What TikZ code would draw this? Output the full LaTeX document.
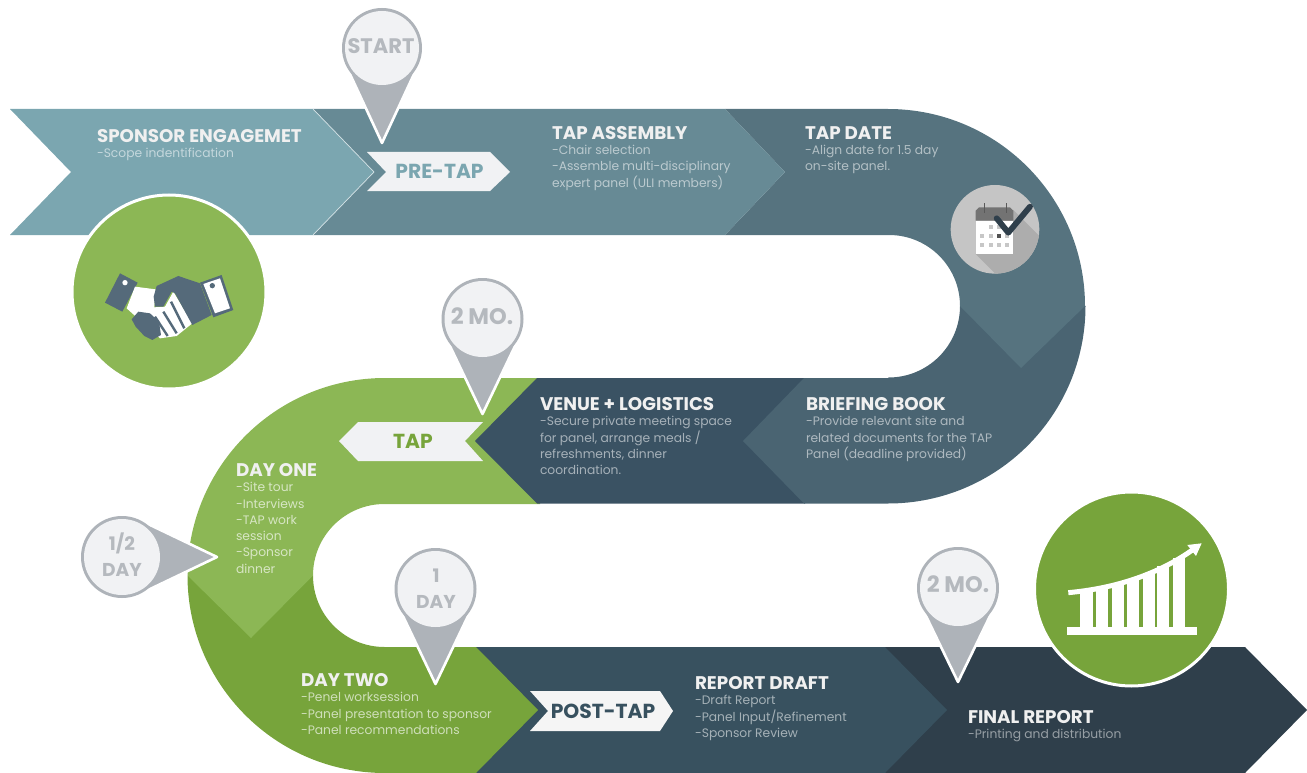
\documentclass[tikz,border=0pt]{standalone}
\usepackage{fontspec}
\setmainfont{Poppins}
\definecolor{cSponsor}{HTML}{7BA6B0}
\definecolor{cAssembly}{HTML}{678A95}
\definecolor{cDate}{HTML}{56737F}
\definecolor{cBrief}{HTML}{4A6472}
\definecolor{cVenue}{HTML}{3A5263}
\definecolor{cGreenA}{HTML}{8CB755}
\definecolor{cGreenB}{HTML}{77A43B}
\definecolor{cReport}{HTML}{38515F}
\definecolor{cFinal}{HTML}{2F3F4B}
\definecolor{cPin}{HTML}{AEB3B9}
\definecolor{cPinText}{HTML}{B5B9BE}
\definecolor{cLight}{HTML}{F1F2F4}
\definecolor{cSlate}{HTML}{556A7A}
\tikzset{
  x=1pt,y=-1pt,
  block/.style={anchor=base west,inner sep=0pt,outer sep=0pt,yshift=-.5pt,
     font=\fontsize{12.3}{16.25}\selectfont},
  tagtext/.style={inner sep=0pt,font=\fontsize{20.3}{22}\selectfont\bfseries},
  pintext/.style={inner sep=0pt,align=center,text=cPinText,font=\fontsize{18.6}{26}\selectfont\bfseries},
}
\newcommand{\ttl}[1]{\raisebox{-1pt}{\fontsize{18.3}{16.25}\selectfont\bfseries\color{white!94!black}#1}}
\newcommand{\blk}[1]{\begin{tabular}[t]{@{}l@{}}#1\end{tabular}}
% name, cx, cy, r, distance, rotation
\newcommand{\pinshape}[6]{%
  \begin{scope}[shift={(#2,#3)},rotate=#6]
    \pgfmathsetmacro\pa{acos(#4/#5)}
    \fill[white] (0,0) circle[radius=#4+3];
    \filldraw[fill=cPin,draw=white,line width=2.6,line join=round]
       (\pa:#4) -- (#5,0) -- (-\pa:#4) -- cycle;
    \fill[cPin] (0,0) circle[radius=#4];
    \fill[cLight] (0,0) circle[radius=#4-3];
  \end{scope}%
}
\begin{document}
\begin{tikzpicture}
\useasboundingbox (0,0) rectangle (1307,773);
% --- serpentine band, last segment first
\fill[cFinal] (885,647) -- (1245,647) -- (1307,710) -- (1245,773) -- (885,773) -- cycle;
\fill[cReport] (476,647) -- (885,647) -- (947,710) -- (885,773) -- (476,773) -- cycle;
\fill[cGreenB] (385,647) -- (476,647) -- (538,710) -- (476,773) -- (385,773)
   arc[start angle=90,end angle=180,radius=197.5] -- (313,575.5)
   arc[start angle=180,end angle=90,radius=71.5] -- cycle;
\fill[cGreenA] (540,378) -- (385,378)
   arc[start angle=-90,end angle=-180,radius=197.5] -- (251,638) -- (313,575.5)
   arc[start angle=180,end angle=270,radius=71.5] -- (540,504) -- cycle;
\fill[cVenue] (805,378) -- (537,378) -- (475,441) -- (537,503.5) -- (805,503.5) -- cycle;
\fill[cBrief] (888,378) -- (804,378) -- (743,441) -- (804,503.5) -- (888,503.5)
   arc[start angle=90,end angle=0,radius=197.5] -- (960,306)
   arc[start angle=0,end angle=90,radius=71.5] -- cycle;
\fill[cDate] (725,109) -- (888,109)
   arc[start angle=-90,end angle=0,radius=197] -- (1021,368) -- (960,306)
   arc[start angle=0,end angle=-90,radius=71] -- (725,235) -- (785,172) -- cycle;
\fill[cAssembly] (313,109) -- (725,109) -- (785,172) -- (725,235) -- (313,235) -- cycle;
\filldraw[fill=cSponsor,draw=none] (10,109) -- (313,109) -- (374,172) -- (313,235) -- (10,235) -- (71,172) -- cycle;
\draw[white!70!cSponsor,line width=.7] (313,109) -- (374,172) -- (313,235);
% --- tags
\fill[cLight] (367,152) -- (490,152) -- (510,172) -- (490,191) -- (367,191) -- (386,172) -- cycle;
\fill[cLight] (339,441) -- (358,422) -- (483,422) -- (465,441) -- (483,461) -- (358,461) -- cycle;
\fill[white!96!black] (530,691) -- (660,691) -- (673,711) -- (660,731) -- (530,731) -- (548,711) -- cycle;
\node[tagtext,text=cSponsor] (tagPre) at (439.5,171) {PRE-TAP};
\node[tagtext,text=cGreenB] (tagTap) at (413,441) {TAP};
\node[tagtext,text=cReport] (tagPost) at (603,711) {POST-TAP};
% --- text blocks
\node[block,text=cSponsor!45!white] (tSponsor) at (97,141) {\blk{\ttl{SPONSOR ENGAGEMET}\\-Scope indentification}};
\node[block,text=cAssembly!45!white] (tAssembly) at (552,138) {\blk{\ttl{TAP ASSEMBLY}\\-Chair selection\\-Assemble multi-disciplinary\\expert panel (ULI members)}};
\node[block,text=cDate!45!white] (tDate) at (805,138) {\blk{\ttl{TAP DATE}\\-Align date for 1.5 day\\on-site panel.}};
\node[block,text=cBrief!45!white] (tBrief) at (806,409) {\blk{\ttl{BRIEFING BOOK}\\-Provide relevant site and\\related documents for the TAP\\Panel (deadline provided)}};
\node[block,text=cVenue!45!white] (tVenue) at (540,409) {\blk{\ttl{VENUE + LOGISTICS}\\-Secure private meeting space\\for panel, arrange meals /\\refreshments, dinner\\coordination.}};
\node[block,text=cGreenA!35!white] (tOne) at (236,475) {\blk{\ttl{DAY ONE}\\-Site tour\\-Interviews\\-TAP work\\session\\-Sponsor\\dinner}};
\node[block,text=cGreenB!35!white] (tTwo) at (301,685) {\blk{\ttl{DAY TWO}\\-Penel worksession\\-Panel presentation to sponsor\\-Panel recommendations}};
\node[block,text=cReport!45!white] (tReport) at (695,688) {\blk{\ttl{REPORT DRAFT}\\-Draft Report\\-Panel Input/Refinement\\-Sponsor Review}};
\node[block,text=cFinal!50!white] (tFinal) at (968,722) {\blk{\ttl{FINAL REPORT}\\-Printing and distribution}};
% --- pins
\pinshape{pStart}{382}{48}{40}{95}{-90}
\node[pintext,font=\fontsize{21}{24}\selectfont\bfseries] (pStart) at (381,46) {START};
\pinshape{pTwoA}{482.5}{319}{41}{95}{-90}
\node[pintext,font=\fontsize{22.5}{24}\selectfont\bfseries] (pTwoA) at (482,316) {2 MO.};
\pinshape{pHalf}{122}{557}{41}{95}{0}
\node[pintext] (pHalf) at (122,555) {1/2\\DAY};
\pinshape{pDay}{435.5}{589}{41}{95}{-90}
\node[pintext] (pDay) at (436,589) {1\\DAY};
\pinshape{pTwoB}{958}{588}{41}{94}{-90}
\node[pintext,font=\fontsize{22.5}{24}\selectfont\bfseries] (pTwoB) at (958,584) {2 MO.};
% --- handshake circle
\filldraw[fill=cGreenA,draw=white,line width=3] (169,292) circle[radius=97];
\begin{scope}[shift={(95,260)},x=.3333pt,y=-.3333pt]
  \fill[cSlate] (75,40) -- (128,68) -- (82,155) -- (30,128) -- cycle;
  \fill[white] (90,68) circle[radius=8];
  \fill[cSlate] (315,68) -- (380,45) -- (415,150) -- (355,172) -- cycle;
  \fill[white] (325,72) -- (375,55) -- (405,145) -- (360,160) -- cycle;
  \fill[cSlate] (352,77) circle[radius=8];
  \fill[white] (120,80) -- (182,88) -- (178,142) -- (210,140) -- (235,95) -- (292,190) -- (245,228) -- (195,235) -- (95,145) -- cycle;
  \fill[cSlate] (185,78) -- (250,48) -- (315,70) -- (350,165) -- (292,195) -- (240,100) -- (230,95) -- (205,140) -- (180,140) -- (176,110) -- cycle;
  \draw[cSlate,line width=2.4] (205,155) -- (245,220) (228,125) -- (268,205);
  \draw[cSlate,line width=2.4] (180,170) -- (218,228);
  \fill[cSlate] (130,155) -- (165,160) -- (192,185) -- (198,225) -- (172,240) -- (148,228) -- (122,200) -- (110,178) -- cycle;
\end{scope}
% --- calendar circle
\begin{scope}[shift={(945,180)},x=.3333pt,y=-.3333pt]
  \fill[white!72!gray!90!black] (150,148) circle[radius=133];
  \begin{scope}
    \clip (150,148) circle[radius=133];
    \fill[black!32] (205,90) -- (310,195) -- (300,300) -- (170,300) -- (92,222) -- cycle;
  \end{scope}
  \fill[black!55] (92,122) -- (92,92) -- (102,82) -- (195,82) -- (205,92) -- (205,122) -- cycle;
  \draw[black!65,line width=1] (118,70) -- (118,100) (185,70) -- (185,100);
  \fill[white] (92,122) rectangle (205,222);
  \foreach \px/\py in {137/140,162/140,112/168,137/168,187/168,112/195,137/195,162/195,187/195}
    \fill[black!22] (\px-6,\py-6) rectangle (\px+6,\py+6);
  \fill[black!68] (156,162) rectangle (168,174);
  \draw[cFinal,line width=5.8,line cap=round,line join=round] (155,115) -- (190,158) -- (255,80);
\end{scope}
% --- growth circle
\filldraw[fill=cGreenB,draw=white,line width=3] (1131.5,589) circle[radius=97];
\begin{scope}[shift={(850,480)},x=.3333pt,y=-.3333pt]
  \fill[white] (652,442) rectangle (1042,466);
  \foreach \xa/\xb/\yt in {690/728/332,737/775/322,785/822/309,832/868/296,878/915/278,922/958/258,968/1005/235}
    \fill[white] (\xa,440) rectangle (\xb,\yt);
  \draw[white,line width=5] (655,338) .. controls (800,325) and (930,280) .. (1030,208);
  \fill[white] (1055,190) -- (1012,195) -- (1038,228) -- cycle;
\end{scope}
\end{tikzpicture}
\end{document}
